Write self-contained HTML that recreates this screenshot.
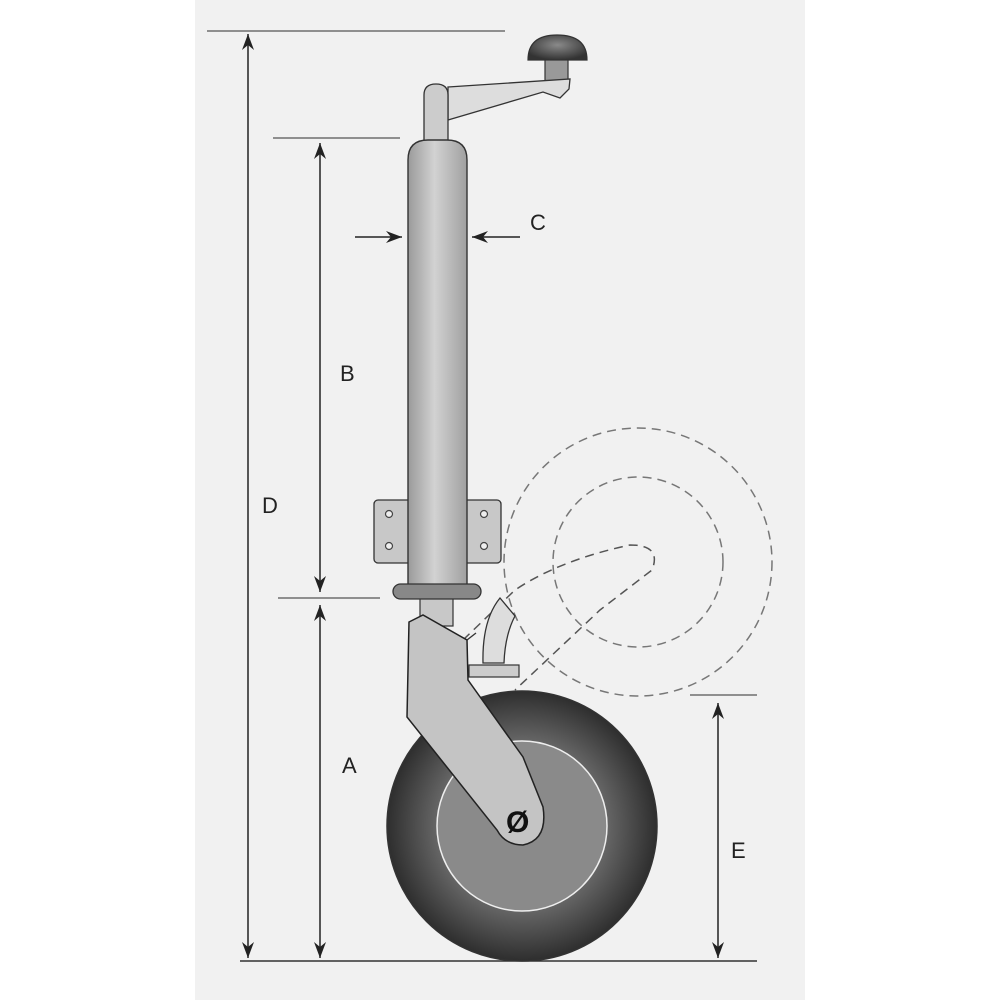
<!DOCTYPE html>
<html><head><style>
html,body{margin:0;padding:0;background:#fff}
svg{display:block}
text{font-family:"Liberation Sans",sans-serif;font-size:22px;fill:#222}
</style></head><body>
<svg width="1000" height="1000" viewBox="0 0 1000 1000" xmlns="http://www.w3.org/2000/svg">
<defs>
<linearGradient id="tube" x1="0" x2="1"><stop offset="0" stop-color="#9a9a9a"/><stop offset="0.45" stop-color="#d2d2d2"/><stop offset="1" stop-color="#a0a0a0"/></linearGradient>
<radialGradient id="tyre" cx="0.5" cy="0.5" r="0.5"><stop offset="0.6" stop-color="#6a6a6a"/><stop offset="1" stop-color="#2e2e2e"/></radialGradient>
<radialGradient id="knob" cx="0.5" cy="0.4" r="0.6"><stop offset="0" stop-color="#8a8a8a"/><stop offset="1" stop-color="#333"/></radialGradient>
<marker id="ar2" viewBox="0 0 16 12" refX="16" refY="6" markerWidth="16" markerHeight="12" markerUnits="userSpaceOnUse" orient="auto"><path d="M0,0 L16,6 L0,12 L5,6 z" fill="#222"/></marker>
</defs>
<rect x="195" y="0" width="610" height="1000" fill="#f1f1f1"/>
<g stroke="#555" stroke-width="1.2">
<line x1="207" y1="31" x2="505" y2="31"/>
<line x1="273" y1="138" x2="400" y2="138"/>
<line x1="278" y1="598" x2="380" y2="598"/>
<line x1="690" y1="695" x2="757" y2="695"/>
<line x1="240" y1="961" x2="757" y2="961" stroke="#333" stroke-width="1.6"/>
</g>
<g stroke="#222" stroke-width="1.5" fill="none">
<line x1="248" y1="50" x2="248" y2="34" marker-end="url(#ar2)"/><line x1="248" y1="50" x2="248" y2="958" marker-end="url(#ar2)"/>
<line x1="320" y1="160" x2="320" y2="143" marker-end="url(#ar2)"/><line x1="320" y1="160" x2="320" y2="592" marker-end="url(#ar2)"/>
<line x1="320" y1="620" x2="320" y2="605" marker-end="url(#ar2)"/><line x1="320" y1="620" x2="320" y2="958" marker-end="url(#ar2)"/>
<line x1="718" y1="720" x2="718" y2="703" marker-end="url(#ar2)"/><line x1="718" y1="720" x2="718" y2="958" marker-end="url(#ar2)"/>
<line x1="355" y1="237" x2="402" y2="237" marker-end="url(#ar2)"/>
<line x1="520" y1="237" x2="472" y2="237" marker-end="url(#ar2)"/>
</g>
<text x="530" y="230">C</text><text x="340" y="381">B</text><text x="262" y="513">D</text><text x="342" y="773">A</text><text x="731" y="858">E</text>
<g stroke="#777" stroke-width="1.5" fill="none" stroke-dasharray="9,6">
<circle cx="638" cy="562" r="134"/>
<circle cx="638" cy="562" r="85"/>
<path d="M463,640 L515,590 Q560,560 630,545 Q662,545 652,570 L600,610 L515,690" stroke="#555"/>
</g>
<circle cx="522" cy="826" r="135" fill="url(#tyre)" stroke="#333" stroke-width="1.5"/>
<circle cx="522" cy="826" r="85" fill="#8a8a8a" stroke="#eee" stroke-width="1.5"/>
<path d="M528,60 Q528,35 557,35 Q587,35 587,60 Z" fill="url(#knob)" stroke="#333" stroke-width="1.2"/>
<rect x="545" y="60" width="23" height="21" fill="#999" stroke="#333" stroke-width="1.2"/>
<path d="M448,87 L570,79 L569,89 L560,98 L543,92 L448,120 Z" fill="#ddd" stroke="#333" stroke-width="1.3"/>
<path d="M424,145 L424,95 Q424,84 436,84 Q448,84 448,95 L448,145 Z" fill="#ccc" stroke="#333" stroke-width="1.3"/>
<rect x="374" y="500" width="40" height="63" rx="4" fill="#c8c8c8" stroke="#333" stroke-width="1.3"/>
<rect x="462" y="500" width="39" height="63" rx="4" fill="#c8c8c8" stroke="#333" stroke-width="1.3"/>
<g fill="#eee" stroke="#444" stroke-width="1.2"><circle cx="389" cy="514" r="3.5"/><circle cx="389" cy="546" r="3.5"/><circle cx="484" cy="514" r="3.5"/><circle cx="484" cy="546" r="3.5"/></g>
<path d="M408,590 L408,160 Q408,140 428,140 L447,140 Q467,140 467,160 L467,590 Z" fill="url(#tube)" stroke="#333" stroke-width="1.4"/>
<rect x="420" y="596" width="33" height="30" fill="#c8c8c8" stroke="#333" stroke-width="1.2"/>
<rect x="393" y="584" width="88" height="15" rx="7.5" fill="#888" stroke="#333" stroke-width="1.3"/>
<path d="M500,598 L515,616 Q505,635 504,663 L483,663 Q482,620 500,598 Z" fill="#ddd" stroke="#333" stroke-width="1.3"/>
<rect x="469" y="665" width="50" height="12" fill="#ccc" stroke="#333" stroke-width="1.2"/>
<line x1="467" y1="640" x2="476" y2="633" stroke="#333" stroke-width="1.3"/>
<path d="M409,622 L423,615 L467,640 L468,680 L523,757 L543,807 Q548,840 523,845 Q505,845 497,830 L407,717 Z" fill="#c4c4c4" stroke="#222" stroke-width="1.5"/>
<text x="506" y="832" style="font-size:30px;font-weight:bold;fill:#111">Ø</text>
</svg>
</body></html>
